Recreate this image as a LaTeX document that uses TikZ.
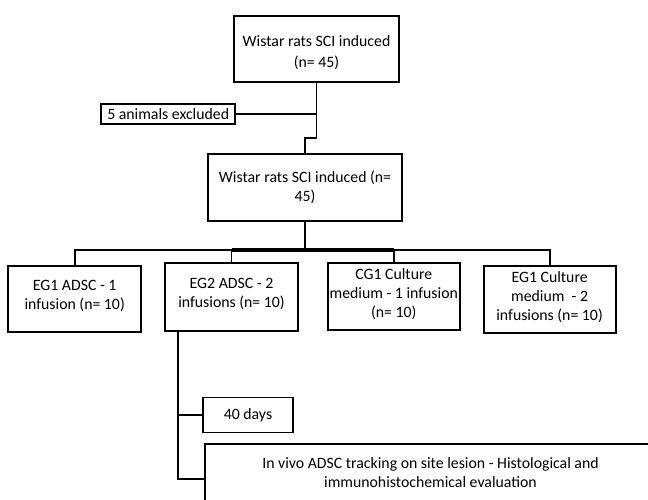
\documentclass[tikz,border=0pt]{standalone}
\usepackage{fontspec}
\setmainfont{Carlito}
\usetikzlibrary{positioning}

\begin{document}
\begin{tikzpicture}
	[rectangle, inner sep=0pt, align=center,
	font=\fontsize{15.8pt}{19pt}\selectfont,
	cohort/.style={draw, line width=1.8pt, minimum height=66pt},
	group/.style={draw, line width=1.8pt, minimum width=132pt, minimum height=67pt, text depth=8pt},
	remark/.style={draw, line width=1.8pt},
	link/.style={line width=1.8pt}]

	\clip (0,0) rectangle (648pt,-500pt);

	\node[cohort, minimum width=165pt, text height=40pt, font=\fontsize{15.8pt}{21pt}\selectfont] (rats_all) at (316.5pt,-49pt) {Wistar rats SCI induced\\(n= 45)};
	\node[remark, minimum width=134pt, minimum height=20pt] (animals_excluded) [below=20pt of rats_all.south west, anchor=north east, xshift=3pt] {5 animals excluded};
	\node[cohort, minimum width=194pt, minimum height=67pt] (rats_kept) [below=70pt of rats_all, xshift=-11.5pt] {Wistar rats SCI induced (n=\\45)};

	\node[group, minimum width=133pt, minimum height=68pt] (eg2_adsc) [below=40pt of rats_kept, xshift=-73.5pt] {EG2 ADSC - 2\\infusions (n= 10)};
	\node[group, minimum width=133pt, minimum height=66pt] (eg1_adsc) [left=22pt of eg2_adsc, yshift=-2pt]     {EG1 ADSC - 1\\infusion (n= 10)};
	\node[group]     (cg1_medium)  [right=28pt of eg2_adsc]                                        {CG1 Culture\\medium - 1 infusion\\(n= 10)};
	\node[group]     (eg1_medium)  [right=22pt of cg1_medium, yshift=-3pt]                         {EG1 Culture\\medium~ - 2\\infusions (n= 10)};

	\node[remark, minimum width=90pt, minimum height=35pt]  (forty_days) [below=65pt of eg2_adsc.south west, anchor=north west, xshift=38pt] {40 days};
	\node[remark, minimum width=451pt, minimum height=70pt, text depth=14pt] (evaluation) [below=10pt of forty_days.south west, anchor=north west, xshift=2pt] {In vivo ADSC tracking on site lesion - Histological and\\immunohistochemical evaluation};

	\coordinate (stem) at ([xshift=14pt]eg2_adsc.south west);

	\draw[link] (rats_all.south) -- ++(0,-55pt) -| (rats_kept.north);
	\draw[link] (animals_excluded) -- (animals_excluded -| rats_all.south);
	\draw[link] (rats_kept.south) -- ++(0,-28pt) coordinate (bus);
	\draw[link] (eg1_adsc.north) |- (bus) -| (eg1_medium.north);
	\draw[link] (eg2_adsc.north) -- (eg2_adsc.north |- bus);
	\draw[link] (cg1_medium.north) -- (cg1_medium.north |- bus);
	\draw[link, line width=4pt] (eg2_adsc.north |- bus) -- (cg1_medium.north |- bus);
	\draw[link] (stem) |- (evaluation.west);
	\draw[link] (stem |- forty_days.west) -- (forty_days.west);
\end{tikzpicture}
\end{document}
